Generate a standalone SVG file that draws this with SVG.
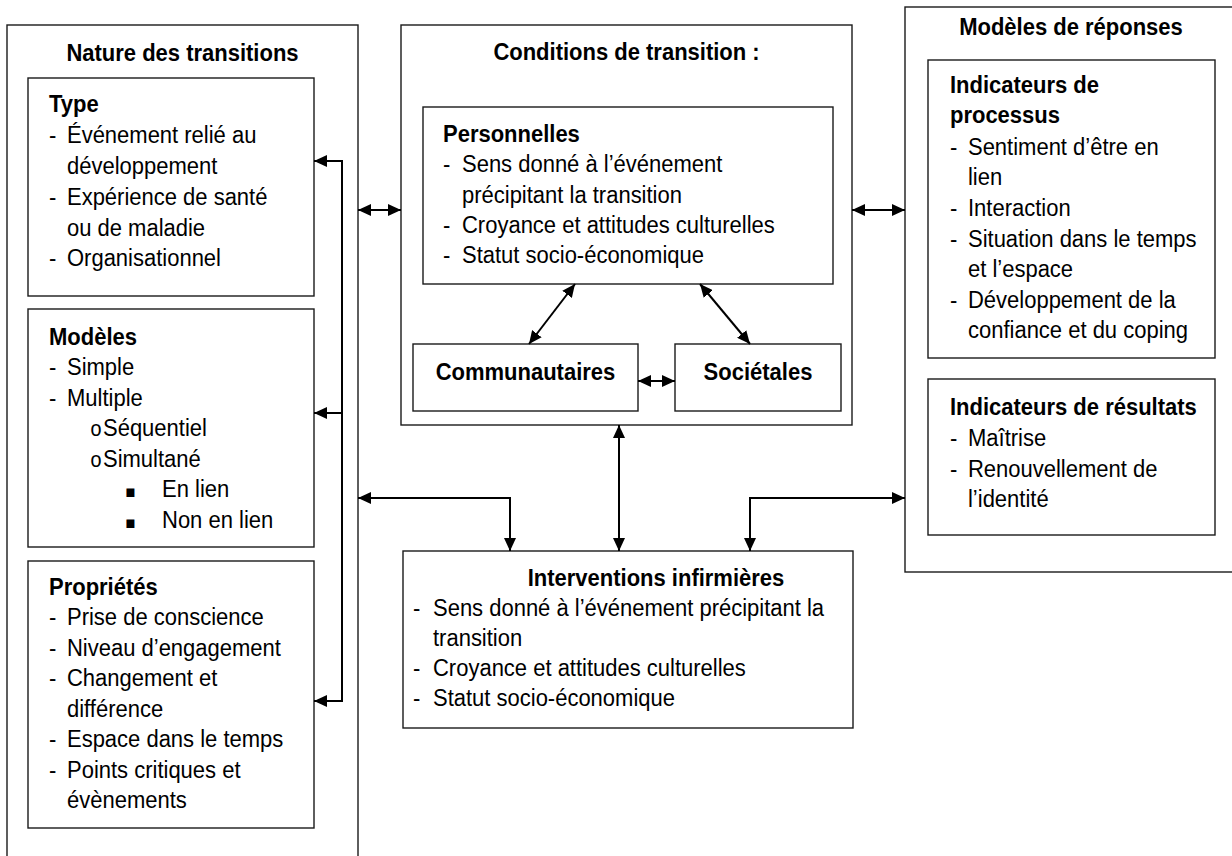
<svg xmlns="http://www.w3.org/2000/svg" width="1232" height="856" viewBox="0 0 1232 856">
  <style>
    text { font-family: "Liberation Sans", Arial, sans-serif; font-size: 22px; fill: #000;
           transform-box: fill-box; transform-origin: 0 100%; transform: scaleY(1.07); }
    .b { font-weight: bold; }
    .c { text-anchor: middle; }
    .box { fill: #fff; stroke: #1a1a1a; stroke-width: 1.4; }
    .wire { fill: none; stroke: #000; stroke-width: 2; }
    .o { font-family: "Liberation Mono", "Courier New", monospace; font-size: 20px; }
    .sq { font-family: "DejaVu Sans", sans-serif; font-size: 16px; }
  </style>
  <defs>
    <marker id="head" markerUnits="userSpaceOnUse" markerWidth="14" markerHeight="12" refX="13" refY="6" orient="auto-start-reverse">
      <path d="M0,0 L13,6 L0,12 Z" fill="#000"/>
    </marker>
  </defs>
  <rect width="1232" height="856" fill="#fff"/>

  <!-- Nature des transitions -->
  <g id="nature">
    <rect class="box" x="7" y="25" width="351" height="845"/>
    <text class="b c" x="182.5" y="61">Nature des transitions</text>
  </g>
  <g id="type">
    <rect class="box" x="28" y="78" width="286" height="218"/>
    <text class="b" x="49" y="112">Type</text>
    <text x="49" y="143">-</text><text x="67" y="143">Événement relié au</text>
    <text x="67" y="174">développement</text>
    <text x="49" y="205">-</text><text x="67" y="205">Expérience de santé</text>
    <text x="67" y="236">ou de maladie</text>
    <text x="49" y="266">-</text><text x="67" y="266">Organisationnel</text>
  </g>
  <g id="modeles">
    <rect class="box" x="28" y="309" width="286" height="238"/>
    <text class="b" x="49" y="345">Modèles</text>
    <text x="49" y="375">-</text><text x="67" y="375">Simple</text>
    <text x="49" y="406">-</text><text x="67" y="406">Multiple</text>
    <text class="o" x="90" y="436">o</text><text x="103" y="436">Séquentiel</text>
    <text class="o" x="90" y="467">o</text><text x="103" y="467">Simultané</text>
    <text class="sq" x="125" y="497">▪</text><text x="162" y="497">En lien</text>
    <text class="sq" x="125" y="528">▪</text><text x="162" y="528">Non en lien</text>
  </g>
  <g id="proprietes">
    <rect class="box" x="28" y="561" width="286" height="267"/>
    <text class="b" x="49" y="595">Propriétés</text>
    <text x="49" y="625">-</text><text x="67" y="625">Prise de conscience</text>
    <text x="49" y="656">-</text><text x="67" y="656">Niveau d’engagement</text>
    <text x="49" y="686">-</text><text x="67" y="686">Changement et</text>
    <text x="67" y="717">différence</text>
    <text x="49" y="747">-</text><text x="67" y="747">Espace dans le temps</text>
    <text x="49" y="778">-</text><text x="67" y="778">Points critiques et</text>
    <text x="67" y="808">évènements</text>
  </g>

  <!-- Conditions de transition -->
  <g id="conditions">
    <rect class="box" x="401" y="25" width="451" height="400"/>
    <text class="b c" x="626.5" y="60">Conditions de transition :</text>
  </g>
  <g id="personnelles">
    <rect class="box" x="423" y="107" width="410" height="177"/>
    <text class="b" x="443" y="142">Personnelles</text>
    <text x="443" y="172">-</text><text x="462" y="172">Sens donné à l’événement</text>
    <text x="462" y="203">précipitant la transition</text>
    <text x="443" y="233">-</text><text x="462" y="233">Croyance et attitudes culturelles</text>
    <text x="443" y="263">-</text><text x="462" y="263">Statut socio-économique</text>
  </g>
  <g id="communautaires">
    <rect class="box" x="413" y="344" width="225" height="67"/>
    <text class="b c" x="525.5" y="380">Communautaires</text>
  </g>
  <g id="societales">
    <rect class="box" x="675" y="344" width="166" height="67"/>
    <text class="b c" x="758" y="380">Sociétales</text>
  </g>

  <!-- Interventions infirmières -->
  <g id="interventions">
    <rect class="box" x="403" y="551" width="450" height="177"/>
    <text class="b c" x="656" y="586">Interventions infirmières</text>
    <text x="413" y="616">-</text><text x="433" y="616">Sens donné à l’événement précipitant la</text>
    <text x="433" y="646">transition</text>
    <text x="413" y="676">-</text><text x="433" y="676">Croyance et attitudes culturelles</text>
    <text x="413" y="706">-</text><text x="433" y="706">Statut socio-économique</text>
  </g>

  <!-- Modèles de réponses -->
  <g id="reponses">
    <rect class="box" x="905" y="7" width="340" height="565"/>
    <text class="b c" x="1071" y="35">Modèles de réponses</text>
  </g>
  <g id="processus">
    <rect class="box" x="928" y="60" width="287" height="298"/>
    <text class="b" x="950" y="93">Indicateurs de</text>
    <text class="b" x="950" y="123">processus</text>
    <text x="950" y="155">-</text><text x="968" y="155">Sentiment d’être en</text>
    <text x="968" y="185">lien</text>
    <text x="950" y="216">-</text><text x="968" y="216">Interaction</text>
    <text x="950" y="247">-</text><text x="968" y="247">Situation dans le temps</text>
    <text x="968" y="277">et l’espace</text>
    <text x="950" y="308">-</text><text x="968" y="308">Développement de la</text>
    <text x="968" y="338">confiance et du coping</text>
  </g>
  <g id="resultats">
    <rect class="box" x="928" y="379" width="287" height="156"/>
    <text class="b" x="950" y="415">Indicateurs de résultats</text>
    <text x="950" y="446">-</text><text x="968" y="446">Maîtrise</text>
    <text x="950" y="477">-</text><text x="968" y="477">Renouvellement de</text>
    <text x="968" y="507">l’identité</text>
  </g>

  <!-- Connectors -->
  <g id="connectors">
    <path class="wire" d="M314,161 H342 V701 H314" marker-start="url(#head)" marker-end="url(#head)"/>
    <path class="wire" d="M342,413 H314" marker-end="url(#head)"/>
    <path class="wire" d="M358,210 H401" marker-start="url(#head)" marker-end="url(#head)"/>
    <path class="wire" d="M852,210 H905" marker-start="url(#head)" marker-end="url(#head)"/>
    <path class="wire" d="M575,284 L529,344" marker-start="url(#head)" marker-end="url(#head)"/>
    <path class="wire" d="M700,284 L750,344" marker-start="url(#head)" marker-end="url(#head)"/>
    <path class="wire" d="M638,381 H675" marker-start="url(#head)" marker-end="url(#head)"/>
    <path class="wire" d="M619,425 V551" marker-start="url(#head)" marker-end="url(#head)"/>
    <path class="wire" d="M358,498 H510 V551" marker-start="url(#head)" marker-end="url(#head)"/>
    <path class="wire" d="M905,498 H750 V551" marker-start="url(#head)" marker-end="url(#head)"/>
  </g>
</svg>
